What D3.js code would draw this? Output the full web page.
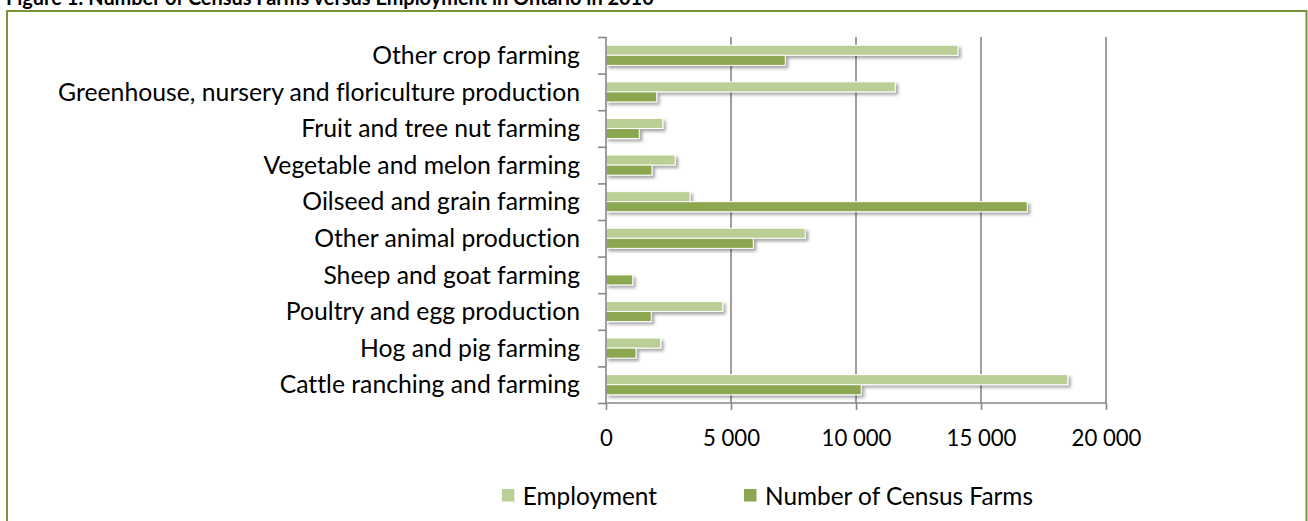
<!DOCTYPE html>
<html><head><meta charset="utf-8">
<script src="https://cdn.jsdelivr.net/npm/d3@7"></script>
<style>
html,body{margin:0;padding:0;background:#fff;overflow:hidden}
text{font-family:Lato, "Open Sans", sans-serif;fill:#000;font-variant-ligatures:none}
</style></head>
<body>
<svg id="c" width="1308" height="521"></svg>
<script>
const title = "Figure 1: Number of Census Farms versus Employment in Ontario in 2010";
const categories = ["Other crop farming","Greenhouse, nursery and floriculture production","Fruit and tree nut farming","Vegetable and melon farming","Oilseed and grain farming","Other animal production","Sheep and goat farming","Poultry and egg production","Hog and pig farming","Cattle ranching and farming"];
const seriesNames = ["Employment","Number of Census Farms"];
const employment = [14080, 11570, 2270, 2770, 3360, 7970, 0, 4670, 2190, 18470];
const farms = [7170, 2030, 1330, 1840, 16850, 5890, 1070, 1810, 1200, 10210];
const xTicks = [0, 5000, 10000, 15000, 20000];
const xTickLabels = ["0", "5 000", "10 000", "15 000", "20 000"];
const colors = ["#BACF96", "#8BA74F"];

const svg = d3.select("#c");
const defs = svg.append("defs");
const f = defs.append("filter").attr("id","sh").attr("x","-5%").attr("y","-50%").attr("width","120%").attr("height","250%");
f.append("feDropShadow").attr("dx",2.5).attr("dy",2.5).attr("stdDeviation",1.6).attr("flood-color","#000").attr("flood-opacity",0.35);

// frame
svg.append("rect").attr("x",7).attr("y",11).attr("width",1299.5).attr("height",530)
  .attr("fill","none").attr("stroke","#77933C").attr("stroke-width",2);

// title
svg.append("text").attr("x",6).attr("y",5).attr("font-weight","bold").attr("font-size",19.5)
  .text(title).each(function(){ const w=this.getComputedTextLength(); d3.select(this).attr("font-size",19.5*648/w); });

const x = d3.scaleLinear().domain([0,20000]).range([606,1106]);
const y = d3.scaleBand().domain(categories).range([37,403]).paddingInner(0.45).paddingOuter(0.225);
const ys = d3.scaleBand().domain(seriesNames).range([0,y.bandwidth()]);

// gridlines
svg.append("g").selectAll("line").data(xTicks.slice(1)).join("line")
  .attr("x1",d=>x(d)).attr("x2",d=>x(d)).attr("y1",37).attr("y2",403)
  .attr("stroke","#878787").attr("stroke-width",1.6);

// bars
const data = categories.map((c,i)=>({c, vals:[employment[i], farms[i]]}));
const g = svg.append("g").attr("filter","url(#sh)");
data.forEach(d=>{
  d.vals.forEach((v,j)=>{
    if(v<=0) return;
    g.append("rect").attr("x",x(0)).attr("y",y(d.c)+ys(seriesNames[j]))
      .attr("width",x(v)-x(0)).attr("height",ys.bandwidth())
      .attr("fill",colors[j]).attr("stroke","#fff").attr("stroke-width",1);
  });
});

// y axis
const ya = d3.axisLeft(d3.scaleLinear().domain([0,10]).range([37,403])).ticks(10).tickSize(8).tickFormat("");
const yg = svg.append("g").attr("transform","translate(606,0)").call(ya);
yg.selectAll("path,line").attr("stroke","#878787").attr("stroke-width",1.6);
yg.select("path").attr("d","M0,37V403");

// x axis
const xa = d3.axisBottom(x).tickValues(xTicks).tickSize(7).tickFormat((d,i)=>xTickLabels[i]);
const xg = svg.append("g").attr("transform","translate(0,403)").call(xa);
xg.selectAll("path,line").attr("stroke","#878787").attr("stroke-width",1.6);
xg.select("path").attr("d","M606,0H1106");
const tl = xg.selectAll("text").attr("font-size",20).attr("dy",0).attr("y",43).attr("fill","#000")
  .style("font-family","Lato, sans-serif");
let tw = 0; tl.filter((d,i)=>i===2).each(function(){ tw=this.getComputedTextLength(); });
tl.attr("font-size",20*70/tw);

// category labels
const lab = svg.append("g").selectAll("text").data(categories).join("text")
  .attr("x",580).attr("y",d=>y(d)+y.bandwidth()/2).attr("dy","0.35em")
  .attr("text-anchor","end").attr("font-size",20).text(d=>d);
let maxW = 0; lab.each(function(){ maxW=Math.max(maxW,this.getComputedTextLength()); });
lab.attr("font-size",20*522/maxW);

// legend
const leg = svg.append("g");
const t2 = leg.append("text").attr("x",765).attr("y",496).attr("dy","0.35em").attr("font-size",20).text(seriesNames[1]);
const lw = t2.node().getComputedTextLength();
const lfs = 20*268/lw;
t2.attr("font-size",lfs);
leg.append("rect").attr("x",744).attr("y",489).attr("width",12.5).attr("height",12.5).attr("fill",colors[1]);
const t1 = leg.append("text").attr("x",657).attr("y",496).attr("dy","0.35em").attr("text-anchor","end").attr("font-size",lfs).text(seriesNames[0]);
const w1 = t1.node().getComputedTextLength();
leg.append("rect").attr("x",657-w1-21).attr("y",489).attr("width",12.5).attr("height",12.5).attr("fill",colors[0]);
</script>
</body></html>
